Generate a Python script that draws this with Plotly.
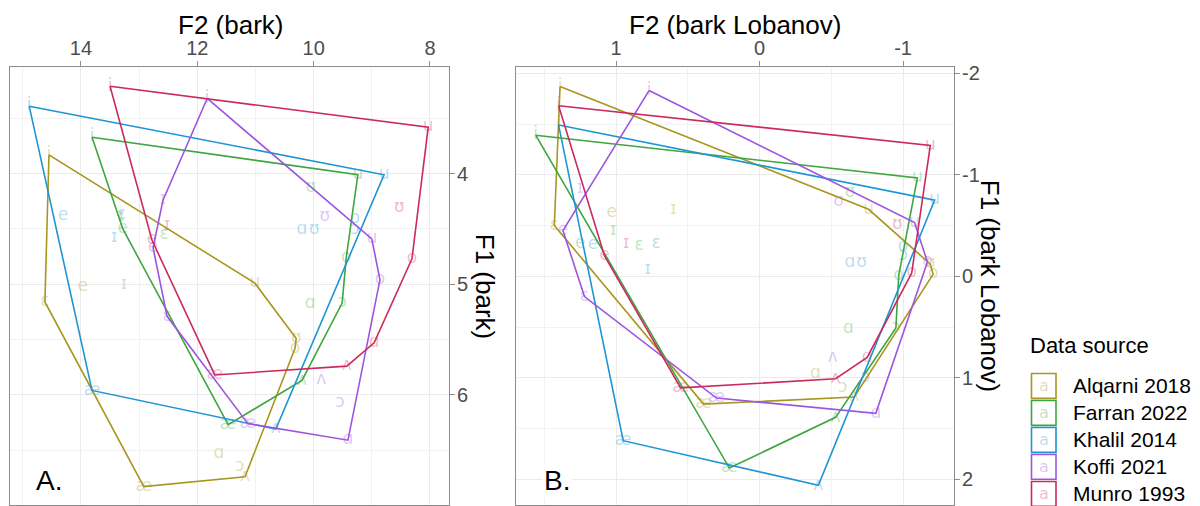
import plotly.graph_objects as go

W, H = 1200, 506

SOURCES = ["Alqarni 2018", "Farran 2022", "Khalil 2014", "Koffi 2021", "Munro 1993"]
COLORS = ["#A8961E", "#3DA640", "#1F95D3", "#9B55E0", "#CB2A5E"]

# ---- Alqarni 2018 ----
alqarni_vowels = ["i", "ɪ", "e", "ɛ", "æ", "ɑ", "ʌ", "ɔ", "o", "ʊ", "u"]
alqarni_f2_bark = [14.55, 13.26, 13.97, 14.62, 12.92, 11.63, 11.18, 11.27, 10.32, 10.30, 11.01]
alqarni_f1_bark = [3.83, 5.00, 5.02, 5.16, 6.83, 6.53, 6.74, 6.65, 5.58, 5.49, 4.99]
alqarni_f2_lob = [1.39, 0.60, 1.03, 1.43, 0.39, -0.39, -0.66, -0.58, -1.21, -1.19, -0.76]
alqarni_f1_lob = [-1.87, -0.66, -0.63, -0.50, 1.26, 0.96, 1.19, 1.10, -0.02, -0.12, -0.66]
alqarni_hull_bark = ["i", "ɛ", "æ", "ʌ", "o", "ʊ", "u"]
alqarni_hull_lob = ["i", "ɛ", "æ", "ʌ", "o", "ʊ", "u"]

# ---- Farran 2022 ----
farran_vowels = ["i", "ɪ", "e", "ɛ", "æ", "ɑ", "ʌ", "ɔ", "o", "ʊ", "u"]
farran_f2_bark = [13.81, 13.31, 13.28, 12.57, 11.47, 10.06, 10.20, 9.51, 9.44, 10.05, 9.24]
farran_f1_bark = [3.67, 4.39, 4.50, 4.55, 6.27, 5.18, 5.87, 5.17, 4.76, 4.13, 4.01]
farran_f2_lob = [1.56, 1.02, 1.25, 0.84, 0.21, -0.62, -0.53, -0.95, -0.97, -0.63, -1.10]
farran_f1_lob = [-1.39, -0.45, -0.32, -0.30, 1.89, 0.52, 1.39, 0.51, -0.01, -0.82, -0.97]
farran_hull_bark = ["i", "e", "æ", "ʌ", "ɔ", "o", "u"]
farran_hull_lob = ["i", "æ", "ʌ", "ɔ", "o", "u"]

# ---- Khalil 2014 ----
khalil_vowels = ["i", "ɪ", "e", "ɛ", "æ", "ɑ", "ʌ", "ɔ", "o", "ʊ", "u"]
khalil_f2_bark = [14.89, 13.43, 14.31, 13.30, 13.81, 10.20, 10.65, 9.29, 9.29, 9.99, 8.79]
khalil_f1_bark = [3.39, 4.58, 4.38, 4.37, 5.96, 4.51, 6.31, 4.51, 4.41, 4.51, 4.01]
khalil_f2_lob = [1.40, 0.78, 1.16, 0.72, 0.95, -0.63, -0.41, -1.00, -1.00, -0.71, -1.22]
khalil_f1_lob = [-1.49, -0.06, -0.31, -0.32, 1.62, -0.13, 2.06, -0.20, -0.29, -0.13, -0.75]
khalil_hull_bark = ["i", "æ", "ʌ", "u"]
khalil_hull_lob = ["i", "æ", "ʌ", "u"]

# ---- Koffi 2021 ----
koffi_vowels = ["i", "ɪ", "e", "ɛ", "æ", "ɑ", "ʌ", "ɔ", "o", "ʊ", "u"]
koffi_f2_bark = [11.83, 12.59, 12.76, 12.52, 11.13, 9.41, 9.87, 9.55, 8.86, 9.81, 9.00]
koffi_f1_bark = [3.32, 4.24, 4.67, 5.29, 6.26, 6.41, 5.86, 6.07, 4.96, 4.39, 4.59]
koffi_f2_lob = [0.77, 1.25, 1.37, 1.22, 0.30, -0.81, -0.51, -0.74, -1.17, -0.55, -1.08]
koffi_f1_lob = [-1.83, -0.86, -0.45, 0.20, 1.20, 1.35, 0.80, 1.00, -0.14, -0.73, -0.53]
koffi_hull_bark = ["i", "ɪ", "e", "ɛ", "æ", "ɑ", "o", "u"]
koffi_hull_lob = ["i", "e", "ɛ", "æ", "ɑ", "o", "u"]

# ---- Munro 1993 ----
munro_vowels = ["i", "ɪ", "e", "æ", "ʌ", "ɑ", "o", "ʊ", "u"]
munro_f2_bark = [13.50, 12.52, 12.78, 11.70, 9.43, 8.96, 8.31, 8.53, 8.03]
munro_f1_bark = [3.21, 4.47, 4.60, 5.82, 5.74, 5.53, 4.77, 4.31, 3.58]
munro_f2_lob = [1.40, 0.93, 1.08, 0.55, -0.53, -0.75, -1.06, -0.96, -1.19]
munro_f1_lob = [-1.68, -0.32, -0.20, 1.10, 1.01, 0.80, -0.03, -0.51, -1.29]
munro_hull_bark = ["i", "e", "æ", "ʌ", "ɑ", "o", "u"]
munro_hull_lob = ["i", "e", "æ", "ʌ", "ɑ", "o", "u"]

# Axis ticks
bark_x_ticks = [14, 12, 10, 8]
bark_x_minor = [15, 13, 11, 9]
bark_y_ticks = [4, 5, 6]
bark_y_minor = [3.5, 4.5, 5.5, 6.5]
lob_x_ticks = [1, 0, -1]
lob_x_minor = [1.5, 0.5, -0.5]
lob_y_ticks = [-2, -1, 0, 1, 2]
lob_y_minor = [-1.5, -0.5, 0.5, 1.5]

datasets = [
    (alqarni_vowels, alqarni_f2_bark, alqarni_f1_bark, alqarni_f2_lob, alqarni_f1_lob,
     alqarni_hull_bark, alqarni_hull_lob),
    (farran_vowels, farran_f2_bark, farran_f1_bark, farran_f2_lob, farran_f1_lob,
     farran_hull_bark, farran_hull_lob),
    (khalil_vowels, khalil_f2_bark, khalil_f1_bark, khalil_f2_lob, khalil_f1_lob,
     khalil_hull_bark, khalil_hull_lob),
    (koffi_vowels, koffi_f2_bark, koffi_f1_bark, koffi_f2_lob, koffi_f1_lob,
     koffi_hull_bark, koffi_hull_lob),
    (munro_vowels, munro_f2_bark, munro_f1_bark, munro_f2_lob, munro_f1_lob,
     munro_hull_bark, munro_hull_lob),
]


def rgba(hex_color, a):
    h = hex_color.lstrip("#")
    r, g, b = int(h[0:2], 16), int(h[2:4], 16), int(h[4:6], 16)
    return f"rgba({r},{g},{b},{a})"


def tick_text(vals):
    # plain hyphen-minus for negative tick labels
    return [str(v) for v in vals]


LABEL_FONT = "DejaVu Sans"
TEXT_FONT = "Liberation Sans, Arial, sans-serif"

fig = go.Figure()

panels = [("x", "y", 1, 2, 5), ("x2", "y2", 3, 4, 6)]

# vowel labels first, outlines on top
for xa, ya, fi2, fi1, hi in panels:
    for src, col, d in zip(SOURCES, COLORS, datasets):
        fig.add_trace(go.Scatter(
            x=d[fi2], y=d[fi1], text=d[0], mode="text",
            textposition="middle center",
            textfont=dict(family=LABEL_FONT, size=17, color=rgba(col, 0.33)),
            xaxis=xa, yaxis=ya, hoverinfo="skip", showlegend=False,
        ))
for xa, ya, fi2, fi1, hi in panels:
    for src, col, d in zip(SOURCES, COLORS, datasets):
        vowels, f2, f1, hull = d[0], d[fi2], d[fi1], d[hi]
        idx = [vowels.index(v) for v in hull] + [vowels.index(hull[0])]
        fig.add_trace(go.Scatter(
            x=[f2[k] for k in idx], y=[f1[k] for k in idx], mode="lines",
            line=dict(color=col, width=1.6),
            xaxis=xa, yaxis=ya, hoverinfo="skip", showlegend=False, name=src,
        ))

Y_DOM = [1 - 505 / H, 1 - 63 / H]

axis_common = dict(
    showline=True, mirror=True, linecolor="#8C8C8C", linewidth=1,
    ticks="outside", ticklen=5, tickwidth=1, tickcolor="#8C8C8C",
    showgrid=True, gridcolor="#EBEBEB", gridwidth=1, zeroline=False,
    tickfont=dict(family=TEXT_FONT, size=20, color="#4D4D4D"),
    tickmode="array",
)


def minor(vals):
    return dict(tickvals=vals, showgrid=True, gridcolor="#F2F2F2", gridwidth=1, ticks="")


fig.update_layout(
    width=W, height=H, margin=dict(l=0, r=0, t=0, b=0),
    paper_bgcolor="white", plot_bgcolor="white", showlegend=False,
    xaxis=dict(axis_common, domain=[10 / W, 449 / W], range=[15.22, 7.673], side="top",
               anchor="y", tickvals=bark_x_ticks, ticktext=tick_text(bark_x_ticks),
               minor=minor(bark_x_minor), ticklabelstandoff=-2),
    yaxis=dict(axis_common, domain=Y_DOM, range=[6.996, 3.031], side="right",
               anchor="x", tickvals=bark_y_ticks, ticktext=tick_text(bark_y_ticks),
               minor=minor(bark_y_minor), ticklabelstandoff=-2),
    xaxis2=dict(axis_common, domain=[516 / W, 954 / W], range=[1.697, -1.355], side="top",
                anchor="y2", tickvals=lob_x_ticks, ticktext=tick_text(lob_x_ticks),
                minor=minor(lob_x_minor), ticklabelstandoff=-2),
    yaxis2=dict(axis_common, domain=Y_DOM, range=[2.254, -2.067], side="right",
                anchor="x2", tickvals=lob_y_ticks, ticktext=tick_text(lob_y_ticks),
                minor=minor(lob_y_minor), ticklabelstandoff=-2),
)

annotations = []


def paper_text(text, px, py, size, angle=0, xanchor="center", color="black", bg=None):
    a = dict(text=text, x=px / W, y=1 - py / H, xref="paper", yref="paper",
             showarrow=False, xanchor=xanchor, yanchor="middle", textangle=angle,
             font=dict(family=TEXT_FONT, size=size, color=color))
    if bg:
        a["bgcolor"] = bg
    annotations.append(a)


paper_text("F2 (bark)", 230, 21, 26)
paper_text("F2 (bark Lobanov)", 735, 21, 26)
paper_text("F1 (bark)", 485, 284, 26, angle=90)
paper_text("F1 (bark Lobanov)", 990, 284, 26, angle=90)
paper_text("A.", 49, 480, 28, bg="white")
paper_text("B.", 557, 480, 28, bg="white")

# legend
paper_text("Data source", 1028, 344, 22, xanchor="left")
shapes = []
for i, (src, col) in enumerate(zip(SOURCES, COLORS)):
    cy = 385 + i * 27.2
    shapes.append(dict(type="rect", xref="paper", yref="paper",
                       x0=1031.5 / W, x1=1056 / W,
                       y0=1 - (cy + 12.5) / H, y1=1 - (cy - 12.5) / H,
                       line=dict(color=col, width=1.6), fillcolor="white"))
    annotations.append(dict(text="a", x=1043.7 / W, y=1 - cy / H, xref="paper", yref="paper",
                            showarrow=False, xanchor="center", yanchor="middle",
                            font=dict(family=LABEL_FONT, size=16, color=rgba(col, 0.33))))
    paper_text(src, 1071, cy, 21, xanchor="left")

fig.update_layout(annotations=annotations, shapes=shapes)

fig.write_html("out.html")
